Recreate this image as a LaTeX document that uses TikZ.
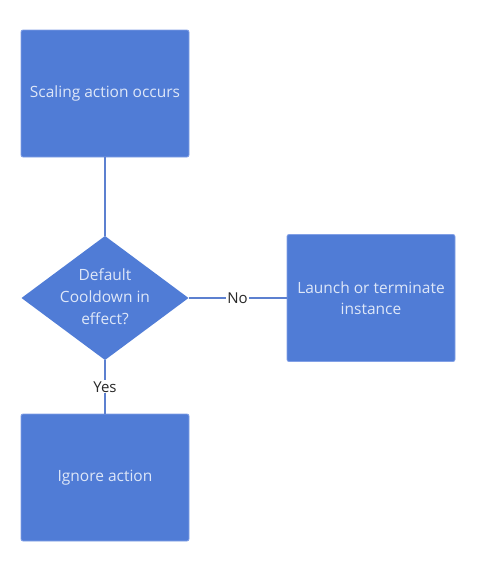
\documentclass[tikz,border=0pt]{standalone}
\usepackage{fontspec}
\setmainfont{Open Sans}
\usetikzlibrary{shapes.geometric}
\definecolor{boxfill}{RGB}{80,124,214}
\definecolor{boxedge}{RGB}{130,160,230}
\definecolor{boxtext}{RGB}{222,231,248}
\definecolor{linecol}{RGB}{92,128,208}
\definecolor{labtext}{RGB}{40,40,40}
\begin{document}
\begin{tikzpicture}[x=1pt,y=-1pt,
  stepbox/.style={draw=boxedge,line width=0.8pt,fill=boxfill,rounded corners=2pt,
    minimum width=168pt,minimum height=127pt,text=boxtext,align=center,
    font=\fontsize{15.5}{21}\selectfont,inner sep=2pt},
  decision/.style={diamond,fill=boxfill,minimum width=167pt,minimum height=124pt,
    inner sep=0pt,outer sep=0pt},
  dtext/.style={text=boxtext,align=center,font=\fontsize{15.5}{22}\selectfont},
  conn/.style={draw=linecol,line width=1.3pt},
  lab/.style={fill=white,text=labtext,inner sep=1pt,font=\fontsize{15}{18}\selectfont}]
\useasboundingbox (0,0) rectangle (477,566);
\node[stepbox] (s) at (105,93.5) {Scaling action occurs};
\node[decision] (d) at (105,298) {};
\node[dtext] (dt) at (105,297) {Default\\Cooldown in\\effect?};
\node[stepbox] (l) at (371,298) {Launch or terminate\\instance};
\node[stepbox] (i) at (105,477.5) {Ignore action};
\draw[conn] (s.south) -- (d.north);
\draw[conn] (d.east) -- node[lab] (no) {No} (l.west);
\draw[conn] (d.south) -- node[lab,pos=0.5] (yes) {Yes} (i.north);
\end{tikzpicture}
\end{document}
